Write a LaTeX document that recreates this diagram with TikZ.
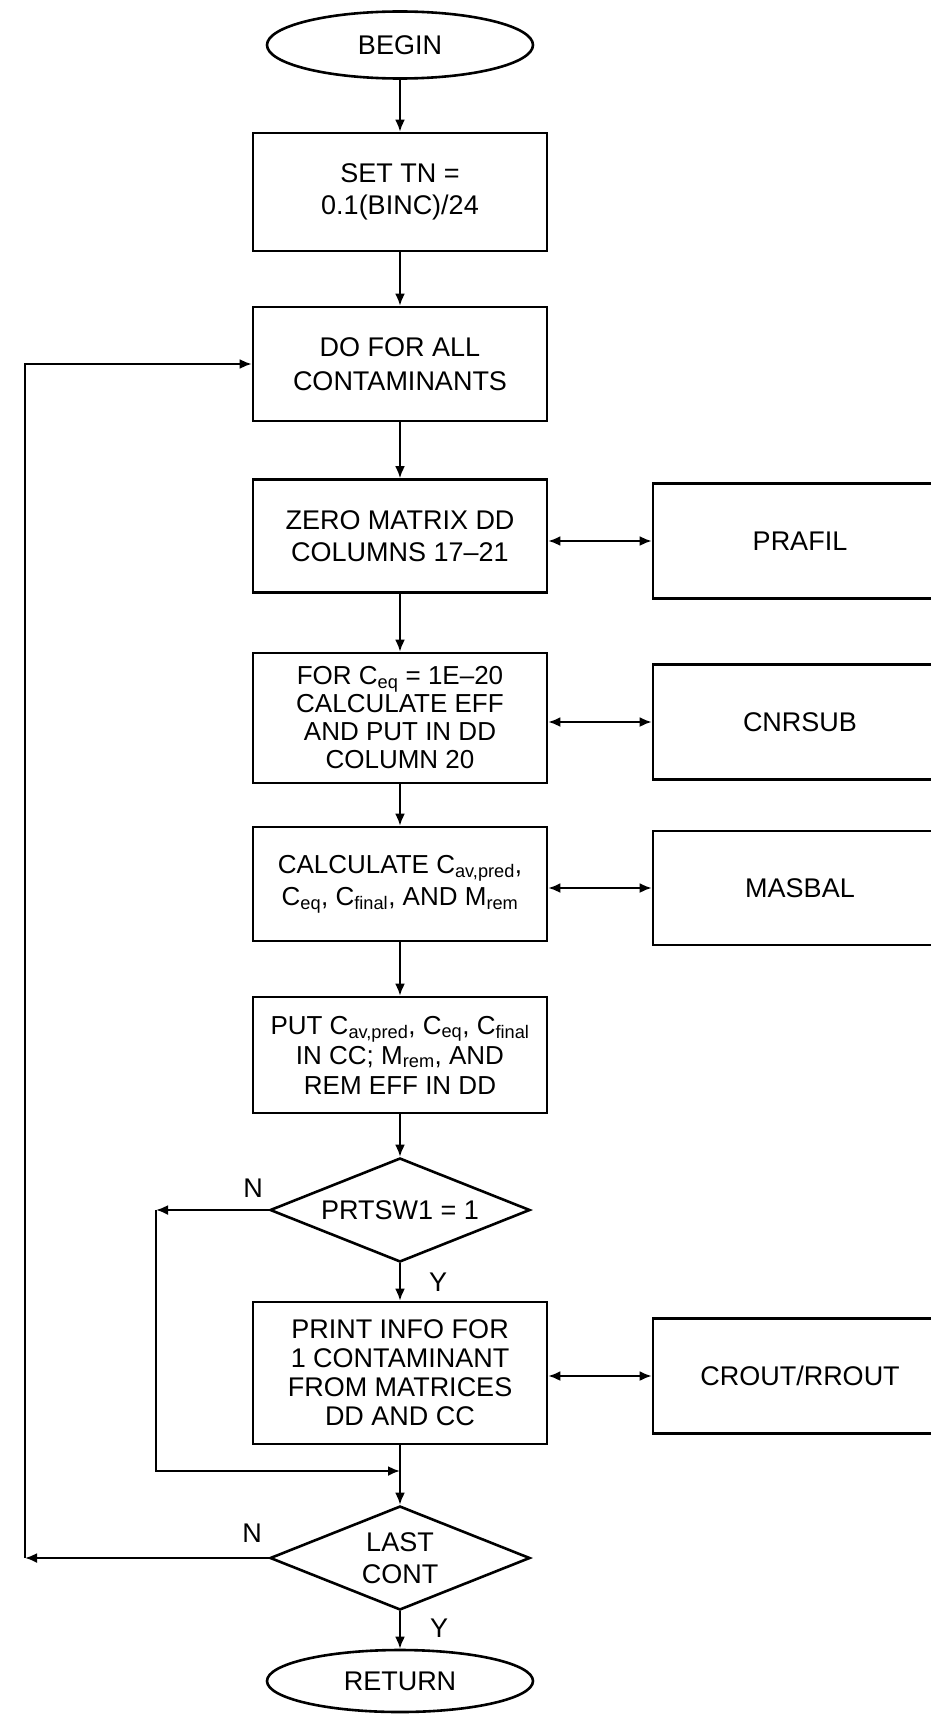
\documentclass[tikz,border=0pt]{standalone}
\usepackage{fontspec}
\setmainfont{Liberation Sans}
\usetikzlibrary{shapes.geometric,arrows.meta}
\newcommand{\sbs}[1]{\textsubscript{#1}}
\begin{document}
\begin{tikzpicture}[x=1pt,y=-1pt,
  every node/.style={font=\fontsize{27}{32}\selectfont},
  box/.style={draw, line width=2.6pt, rectangle, minimum width=294pt, minimum height=#1, inner sep=0pt, align=center},
  term/.style={draw, line width=2.6pt, ellipse, minimum width=266pt, minimum height=#1, inner sep=0pt},
  dec/.style={draw, line width=2.6pt, diamond, aspect=2.5, minimum width=260pt, minimum height=104pt, inner sep=0pt, align=center},
  arr/.style={line width=2.2pt, -{Latex[length=12pt,width=10pt]}},
  biarr/.style={line width=2.2pt, {Latex[length=12pt,width=10pt]}-{Latex[length=12pt,width=10pt]}},
  lbl/.style={inner sep=0pt}
]
\useasboundingbox (0,0) rectangle (931,1718);
\fill[white] (0,0) rectangle (931,1718);
\clip (0,0) rectangle (931,1718);

% main column
\node[term=67pt] (begin) at (400,45) {BEGIN};
\node[box=118pt] (set) at (400,192) {SET TN =\\0.1(BINC)/24};
\node[box=114pt, font=\fontsize{27}{34}\selectfont] (dofor) at (400,364) {DO FOR ALL\\CONTAMINANTS};
\node[box=113pt] (zero) at (400,536) {ZERO MATRIX DD\\COLUMNS 17–21};
\node[box=130pt, font=\fontsize{26}{28}\selectfont] (forc) at (400,718) {FOR C\sbs{eq} = 1E–20\\CALCULATE EFF\\AND PUT IN DD\\COLUMN 20};
\node[box=114pt, font=\fontsize{26}{32}\selectfont] (calc) at (400,884) {CALCULATE C\sbs{av,pred},\\C\sbs{eq}, C\sbs{final}, AND M\sbs{rem}};
\node[box=116pt, font=\fontsize{26}{30}\selectfont] (put) at (400,1055) {PUT C\sbs{av,pred}, C\sbs{eq}, C\sbs{final}\\IN CC; M\sbs{rem}, AND\\REM EFF IN DD};
\node[dec] (prt) at (400,1210) {PRTSW1 = 1};
\node[box=142pt, font=\fontsize{27}{29}\selectfont] (print) at (400,1373) {PRINT INFO FOR\\1 CONTAMINANT\\FROM MATRICES\\DD AND CC};
\node[dec] (last) at (400,1558) {LAST\\CONT};
\node[term=62pt] (ret) at (400,1681) {RETURN};

% subroutines
\node[box=115pt] (prafil) at (800,541) {PRAFIL};
\node[box=115pt] (cnrsub) at (800,722) {CNRSUB};
\node[box=114pt] (masbal) at (800,888) {MASBAL};
\node[box=115pt] (crout) at (800,1376) {CROUT/RROUT};

% labels
\node[lbl] (n1) at (253,1188) {N};
\node[lbl] (y1) at (438,1282) {Y};
\node[lbl] (n2) at (252,1533) {N};
\node[lbl] (y2) at (439,1628) {Y};

% main flow
\draw[arr] (begin) -- (set);
\draw[arr] (set) -- (dofor);
\draw[arr] (dofor) -- (zero);
\draw[arr] (zero) -- (forc);
\draw[arr] (forc) -- (calc);
\draw[arr] (calc) -- (put);
\draw[arr] (put) -- (prt);
\draw[arr] (prt) -- (print);
\draw[arr] (print) -- (last);
\draw[arr] (last) -- (ret);

% subroutine links
\draw[biarr] (prafil.west -| zero.east) -- (prafil.west);
\draw[biarr] (cnrsub.west -| forc.east) -- (cnrsub.west);
\draw[biarr] (masbal.west -| calc.east) -- (masbal.west);
\draw[biarr] (crout.west -| print.east) -- (crout.west);

% inner bypass loop
\coordinate (c1) at (156,1210);
\coordinate (j) at (400,1471);
\draw[arr] (prt.west) -- (c1);
\draw[arr] (c1) |- (j);

% outer loop
\coordinate (c2) at (25,1558);
\draw[arr] (last.west) -- (c2);
\draw[arr] (c2) |- (dofor.west);
\end{tikzpicture}
\end{document}
